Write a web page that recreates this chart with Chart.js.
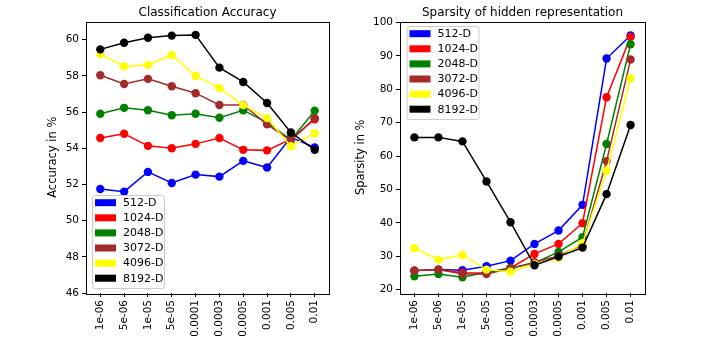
<!DOCTYPE html>
<html>
<head>
<meta charset="utf-8">
<script src="https://cdn.jsdelivr.net/npm/chart.js@4"></script>
<style>
  body { margin: 0; background: #fff; }
  #wrap { position: relative; width: 709px; height: 338px; }
  canvas { position: absolute; top: 0; }
</style>
</head>
<body>
<div id="wrap">
  <canvas id="acc" width="340" height="338" style="left:0;width:340px;height:338px"></canvas>
  <canvas id="spa" width="369" height="338" style="left:340px;width:369px;height:338px"></canvas>
</div>
<script>
const lambdas = ["1e-06", "5e-06", "1e-05", "5e-05", "0.0001", "0.0003", "0.0005", "0.001", "0.005", "0.01"];
const names = ["512-D", "1024-D", "2048-D", "3072-D", "4096-D", "8192-D"];
const colors = ["#0000ff", "#ff0000", "#008000", "#a52a2a", "#ffff00", "#000000"];

// classification accuracy (%)
const acc512 = [51.75, 51.6, 52.69, 52.08, 52.54, 52.43, 53.3, 52.93, 54.6, 54.04];
const acc1024 = [54.56, 54.8, 54.13, 54.0, 54.24, 54.56, 53.91, 53.88, 54.5, 55.6];
const acc2048 = [55.9, 56.23, 56.1, 55.82, 55.9, 55.68, 56.1, 55.41, 54.46, 56.07];
const acc3072 = [58.03, 57.55, 57.83, 57.42, 57.04, 56.39, 56.39, 55.32, 54.42, 55.66];
const acc4096 = [59.2, 58.52, 58.6, 59.15, 57.99, 57.33, 56.38, 55.66, 54.11, 54.83];
const acc8192 = [59.46, 59.83, 60.1, 60.22, 60.26, 58.45, 57.66, 56.5, 54.87, 53.91];

// sparsity of hidden representation (%)
const spa512 = [25.7, 26.0, 25.8, 27.0, 28.7, 33.7, 37.7, 45.4, 89.2, 96.1];
const spa1024 = [25.7, 26.0, 25.1, 25.0, 26.5, 30.7, 33.7, 39.9, 77.6, 95.7];
const spa2048 = [24.0, 24.7, 23.7, 25.2, 26.5, 28.0, 31.3, 35.7, 63.6, 93.5];
const spa3072 = [25.7, 26.0, 24.7, 24.7, 26.3, 28.2, 30.1, 33.4, 58.5, 88.9];
const spa4096 = [32.4, 29.0, 30.4, 26.0, 25.4, 27.7, 29.5, 33.9, 55.6, 83.3];
const spa8192 = [65.6, 65.6, 64.4, 52.4, 40.2, 27.3, 29.9, 32.6, 48.6, 69.3];

const accTicks = [46, 48, 50, 52, 54, 56, 58, 60];
const spaTicks = [20, 30, 40, 50, 60, 70, 80, 90, 100];

const FONT = "DejaVu Sans";

function makeSets(series) {
  return series.map((vals, i) => ({
    label: names[i],
    data: vals.map((v, j) => ({ x: j, y: v })),
    borderColor: colors[i],
    backgroundColor: colors[i],
    pointBackgroundColor: colors[i],
    pointBorderColor: colors[i],
    borderWidth: 1.5,
    pointRadius: 4.2,
    pointBorderWidth: 0,
    pointHoverRadius: 4.2,
    order: series.length - i,
  }));
}

// title over the plot area, box around it, matplotlib-ish legend
const framePlugin = {
  id: 'frame',
  afterDraw(chart, args, opts) {
    const ctx = chart.ctx;
    const a = chart.chartArea;
    ctx.save();
    ctx.strokeStyle = '#000';
    ctx.lineWidth = 1;
    ctx.strokeRect(Math.round(a.left) + 0.5, Math.round(a.top) + 0.5,
      Math.round(a.right - a.left), Math.round(a.bottom - a.top));

    ctx.fillStyle = '#000';
    ctx.font = '12px "' + FONT + '"';
    ctx.textAlign = 'center';
    ctx.textBaseline = 'alphabetic';
    ctx.fillText(opts.title, (a.left + a.right) / 2, 15.5);

    const w = 72, h = 93;
    const x = a.left + opts.dx;
    const y = opts.corner === 'bl' ? a.bottom - opts.dy - h : a.top + opts.dy;
    ctx.fillStyle = 'rgba(255,255,255,0.8)';
    ctx.strokeStyle = '#cccccc';
    ctx.beginPath();
    ctx.roundRect(x + 0.5, y + 0.5, w, h, 2);
    ctx.fill();
    ctx.stroke();
    ctx.font = '11px "' + FONT + '"';
    ctx.textBaseline = 'middle';
    ctx.textAlign = 'left';
    chart.data.datasets.forEach((ds, i) => {
      const cy = y + 7.7 + i * 15.1;
      ctx.fillStyle = ds.borderColor;
      ctx.fillRect(x + 3, cy - 3.5, 21, 7);
      ctx.fillStyle = '#000';
      ctx.fillText(ds.label, x + 31, cy + 0.5);
    });
    ctx.restore();
  }
};

function makeChart(id, title, yTitle, series, yMin, yMax, yTicks, leftW, rightPad, yTitlePad, legendOpts) {
  return new Chart(document.getElementById(id), {
    type: 'line',
    data: { datasets: makeSets(series) },
    plugins: [framePlugin],
    options: {
      responsive: false,
      animation: false,
      events: [],
      layout: { padding: { left: 0, right: rightPad, top: 21.5, bottom: 0 } },
      plugins: {
        legend: { display: false },
        tooltip: { enabled: false },
        title: { display: false },
        frame: Object.assign({ title: title }, legendOpts),
      },
      scales: {
        x: {
          type: 'linear',
          min: -0.6,
          max: 9.6,
          afterBuildTicks: s => { s.ticks = lambdas.map((_, i) => ({ value: i })); },
          afterFit: s => { s.height = 45; },
          ticks: {
            callback: v => lambdas[v],
            minRotation: 90,
            maxRotation: 90,
            autoSkip: false,
            color: '#000',
            padding: 3,
            font: { family: FONT, size: 10.5 },
          },
          grid: { display: true, drawOnChartArea: false, drawTicks: true, tickLength: 4, color: '#000' },
          border: { display: false },
        },
        y: {
          type: 'linear',
          min: yMin,
          max: yMax,
          afterBuildTicks: s => { s.ticks = yTicks.map(v => ({ value: v })); },
          afterFit: s => { s.width = leftW; },
          ticks: {
            color: '#000',
            padding: 3,
            font: { family: FONT, size: 10.5 },
          },
          grid: { display: true, drawOnChartArea: false, drawTicks: true, tickLength: 4, color: '#000' },
          border: { display: false },
          title: {
            display: true,
            text: yTitle,
            color: '#000',
            font: { family: FONT, size: 11.5 },
            padding: { top: yTitlePad, bottom: 0 },
          },
        },
      },
    },
  });
}

makeChart('acc', 'Classification Accuracy', 'Accuracy in %',
  [acc512, acc1024, acc2048, acc3072, acc4096, acc8192],
  46, 61, accTicks, 86, 11, 46, { corner: 'bl', dx: 6, dy: 5 });

makeChart('spa', 'Sparsity of hidden representation', 'Sparsity in %',
  [spa512, spa1024, spa2048, spa3072, spa4096, spa8192],
  19, 100.3, spaTicks, 60, 64, 14, { corner: 'tl', dx: 6.5, dy: 4.5 });
</script>
</body>
</html>
